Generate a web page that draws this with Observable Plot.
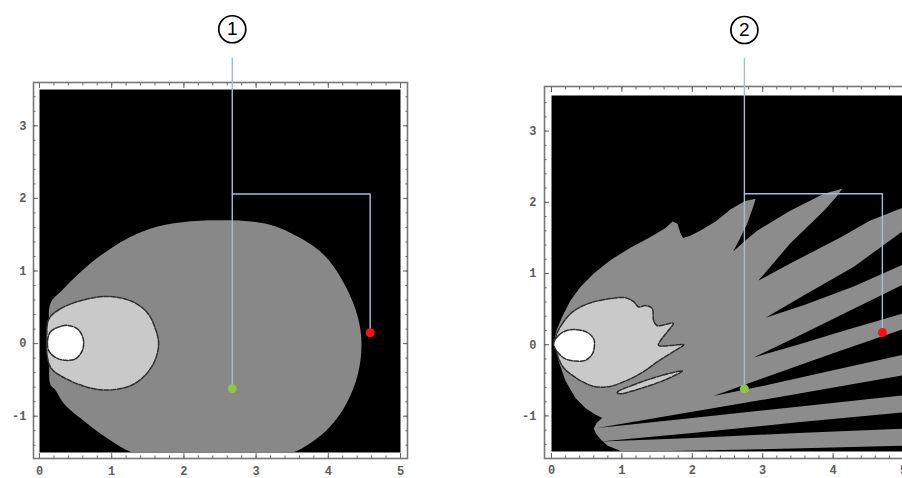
<!DOCTYPE html>
<html><head><meta charset="utf-8">
<script src="https://cdn.jsdelivr.net/npm/d3@7"></script>
<script src="https://cdn.jsdelivr.net/npm/@observablehq/plot@0.6"></script>
<style>
body{margin:0;background:#fff;}
#wrap{position:relative;width:902px;height:478px;overflow:hidden;background:#fff;}
#wrap svg{position:absolute;top:0;}
</style></head><body><div id="wrap"></div>
<script>
// ---- tick labels ----
const xTicks = [0, 1, 2, 3, 4, 5];
const yTicks = [-1, 0, 1, 2, 3];

// ---- panel 1 regions (x, y data coordinates) ----
const leftGray = [[0.15,0.55],[0.31,0.73],[0.52,0.94],[0.84,1.21],[1.30,1.49],[1.76,1.64],[2.45,1.70],[3.14,1.65],[3.60,1.46],[3.97,1.19],[4.25,0.77],[4.41,0.36],[4.46,0.00],[4.41,-0.42],[4.25,-0.83],[4.02,-1.15],[3.74,-1.38],[3.44,-1.52],[2.4,-1.56],[1.35,-1.52],[0.98,-1.33],[0.66,-1.10],[0.34,-0.83],[0.22,-0.64],[0.15,-0.56],[0.15,0.0]];
const leftLight = [[0.13,0.34],[0.29,0.48],[0.57,0.59],[0.93,0.65],[1.26,0.59],[1.49,0.43],[1.60,0.22],[1.65,0.00],[1.60,-0.23],[1.46,-0.44],[1.26,-0.58],[0.93,-0.64],[0.66,-0.60],[0.38,-0.49],[0.17,-0.35],[0.11,-0.19],[0.10,0.10]];
const leftWhite = [[0.11,0.02],[0.15,0.16],[0.27,0.23],[0.40,0.25],[0.54,0.19],[0.61,0.04],[0.59,-0.10],[0.50,-0.21],[0.36,-0.23],[0.22,-0.19],[0.13,-0.10]];
const leftGreen = [[2.67,-0.62]];
const leftRed = [[4.58,0.15]];
const leftCallV = [[2.67,3.93],[2.67,-0.62]];
const leftCallH = [[2.67,2.06],[4.58,2.06],[4.58,0.15]];
const leftBadge = [[2.67,4.33,"1"]];

// ---- panel 2 regions ----
const rightGray = [[0.03,0.01],[0.07,0.20],[0.16,0.41],[0.27,0.62],[0.41,0.81],[0.60,1.00],[0.84,1.19],[1.12,1.36],[1.40,1.51],[1.62,1.64],[1.72,1.73],[1.79,1.70],[1.83,1.57],[1.87,1.50],[1.97,1.53],[2.11,1.60],[2.33,1.73],[2.54,1.90],[2.75,2.02],[2.90,2.05],
  [2.87,1.95],[2.78,1.70],[2.64,1.42],[2.58,1.31],
  [2.75,1.46],[2.92,1.60],[3.39,1.88],[3.87,2.12],[4.13,2.19],
  [4.05,2.08],[3.87,1.88],[3.39,1.42],[3.06,1.04],[2.94,0.90],
  [3.39,1.14],[4.11,1.51],[4.52,1.74],[5.0,1.93],
  [5.0,-1.5],[1.0,-1.5],[0.80,-1.42],[0.70,-1.33],[0.64,-1.26],[0.60,-1.18],[0.64,-1.10],[0.72,-1.03],
  [0.62,-0.98],[0.48,-0.89],[0.34,-0.75],[0.20,-0.51],[0.10,-0.23],[0.06,-0.05]];
const gap3 = [[3.04,0.38],[3.6,0.70],[4.3,1.10],[5.0,1.60],[5.0,1.13],[4.3,0.82],[3.6,0.56]];
const gap4 = [[2.87,-0.18],[3.5,0.12],[4.2,0.46],[5.0,0.85],[5.0,0.44],[4.2,0.21],[3.5,0.0]];
const gap5 = [[2.30,-0.72],[3.0,-0.47],[4.0,-0.12],[5.0,0.22],[5.0,-0.14],[4.0,-0.36],[3.0,-0.58]];
const gap6 = [[0.65,-1.17],[2.0,-0.94],[3.5,-0.69],[5.0,-0.43],[5.0,-0.71],[3.5,-0.87],[2.0,-1.03]];
const gap7 = [[0.70,-1.36],[2.0,-1.24],[3.5,-1.09],[5.0,-0.95],[5.0,-1.18],[3.5,-1.24],[2.0,-1.31]];
const gap8 = [[1.30,-1.50],[3.0,-1.47],[5.0,-1.42],[5.0,-1.50]];
const rightLight = [[0.06,0.10],[0.15,0.29],[0.30,0.46],[0.53,0.58],[0.86,0.65],[1.05,0.66],[1.17,0.60],[1.24,0.53],[1.33,0.55],[1.43,0.51],[1.45,0.34],[1.50,0.27],[1.73,0.30],[1.66,0.20],[1.55,0.06],[1.52,-0.01],[1.71,-0.01],[1.88,0.00],[1.76,-0.08],[1.52,-0.23],[1.29,-0.39],[1.05,-0.51],[0.81,-0.59],[0.58,-0.58],[0.34,-0.46],[0.17,-0.32],[0.08,-0.13]];
const rightSliver = [[0.93,-0.67],[1.15,-0.57],[1.57,-0.43],[1.86,-0.37],[1.60,-0.50],[1.15,-0.65],[0.98,-0.69]];
const rightWhite = [[0.03,0.01],[0.10,0.13],[0.22,0.20],[0.36,0.21],[0.51,0.17],[0.60,0.08],[0.61,-0.01],[0.58,-0.13],[0.48,-0.22],[0.34,-0.23],[0.20,-0.20],[0.10,-0.12]];
const rightGreen = [[2.74,-0.62]];
const rightRed = [[4.70,0.17]];
const rightCallV = [[2.74,4.02],[2.74,-0.62]];
const rightCallH = [[2.74,2.12],[4.70,2.12],[4.70,0.17]];
const rightBadge = [[2.74,4.42,"2"]];

const pts = a => a.map(([x, y, label]) => ({x, y, label}));
const minorX = d3.range(0, 51, 2).map(v => v / 10);
const minorY = d3.range(-14, 35, 2).map(v => v / 10);

function panel(o) {
  const poly = (arr, opts) => Plot.line(pts(arr), {x: "x", y: "y", curve: "linear-closed", clip: true, ...opts});
  const tk = {label: null, tickFormat: () => "", stroke: "#666", strokeWidth: 1};
  const lab = {label: null, tickSize: 0, fontSize: 12, fontWeight: "bold", fontFamily: "Liberation Mono, DejaVu Sans Mono, monospace", fill: "#5e5e5e", tickFormat: d => String(d)};
  return Plot.plot({
    width: o.width, height: 478,
    marginLeft: o.ml, marginRight: o.mr, marginTop: o.mt, marginBottom: o.mb,
    x: {domain: [0, 5]}, y: {domain: [-1.5, 3.5]},
    style: {background: "transparent", overflow: "visible"},
    marks: [
      Plot.frame({fill: "#000"}),
      poly(o.gray, {fill: o.grayColor, stroke: "none", curve: o.grayCurve}),
      ...o.gaps.map(g => poly(g, {fill: "#000", stroke: "none"})),
      ...o.light.map(l => poly(l, {fill: "#c9c9c9", stroke: "#2e2e2e", strokeWidth: 1.5, strokeDasharray: "5 1.5", curve: "catmull-rom-closed"})),
      poly(o.white, {fill: "#fff", stroke: "#2e2e2e", strokeWidth: 1.5, strokeDasharray: "5 1.5", curve: "catmull-rom-closed"}),
      Plot.frame({stroke: "#777", strokeWidth: 1.6, insetLeft: -o.fl, insetRight: -o.fr, insetTop: -o.ft, insetBottom: -o.fb}),
      Plot.axisX({anchor: "bottom", ticks: minorX, tickSize: -2.5, dy: o.fb, ...tk}),
      Plot.axisX({anchor: "bottom", ticks: xTicks, tickSize: -5, dy: o.fb, ...tk}),
      Plot.axisX({anchor: "top", ticks: minorX, tickSize: -2.5, dy: -o.ft, ...tk}),
      Plot.axisX({anchor: "top", ticks: xTicks, tickSize: -5, dy: -o.ft, ...tk}),
      Plot.axisY({anchor: "left", ticks: minorY, tickSize: -2.5, dx: -o.fl, ...tk}),
      Plot.axisY({anchor: "left", ticks: yTicks, tickSize: -5, dx: -o.fl, ...tk}),
      Plot.axisY({anchor: "right", ticks: minorY, tickSize: -2.5, dx: o.fr, ...tk}),
      Plot.axisY({anchor: "right", ticks: yTicks, tickSize: -5, dx: o.fr, ...tk}),
      Plot.axisX({anchor: "bottom", ticks: xTicks, tickPadding: 14, ...lab}),
      Plot.axisY({anchor: "left", ticks: yTicks, tickPadding: o.yPad, ...lab}),
      Plot.line(pts(o.callV), {x: "x", y: "y", stroke: "#a6bbdb", strokeWidth: 1.4}),
      Plot.line(pts(o.callH), {x: "x", y: "y", stroke: "#a6bbdb", strokeWidth: 1.4}),
      Plot.dot(pts(o.green), {x: "x", y: "y", r: 4.5, fill: "#8dc63f", stroke: "none"}),
      Plot.dot(pts(o.red), {x: "x", y: "y", r: 4.5, fill: "#ff1010", stroke: "none"}),
      Plot.dot(pts(o.badge), {x: "x", y: "y", r: 13.5, fill: "#fff", stroke: "#000", strokeWidth: 1.7}),
      Plot.text(pts(o.badge), {x: "x", y: "y", text: "label", fontSize: 19, fontFamily: "Liberation Sans, Arial, sans-serif", fill: "#000"})
    ]
  });
}

const wrap = document.getElementById("wrap");
const p1 = panel({width: 451, ml: 39, mr: 51, mt: 89, mb: 26, fl: 6, fr: 7, ft: 7, fb: 6, yPad: 13,
  gray: leftGray, grayColor: "#888888", grayCurve: "catmull-rom-closed", gaps: [], light: [leftLight], white: leftWhite,
  green: leftGreen, red: leftRed, callV: leftCallV, callH: leftCallH, badge: leftBadge});
p1.style.left = "0px";
wrap.appendChild(p1);
const p2 = panel({width: 460, ml: 100, mr: 8, mt: 95, mb: 27, fl: 7, fr: 7, ft: 9, fb: 7, yPad: 15,
  gray: rightGray, grayColor: "#8c8c8c", grayCurve: "linear-closed", gaps: [gap3, gap4, gap5, gap6, gap7, gap8], light: [rightLight, rightSliver], white: rightWhite,
  green: rightGreen, red: rightRed, callV: rightCallV, callH: rightCallH, badge: rightBadge});
p2.style.left = "451px";
wrap.appendChild(p2);
</script></body></html>
